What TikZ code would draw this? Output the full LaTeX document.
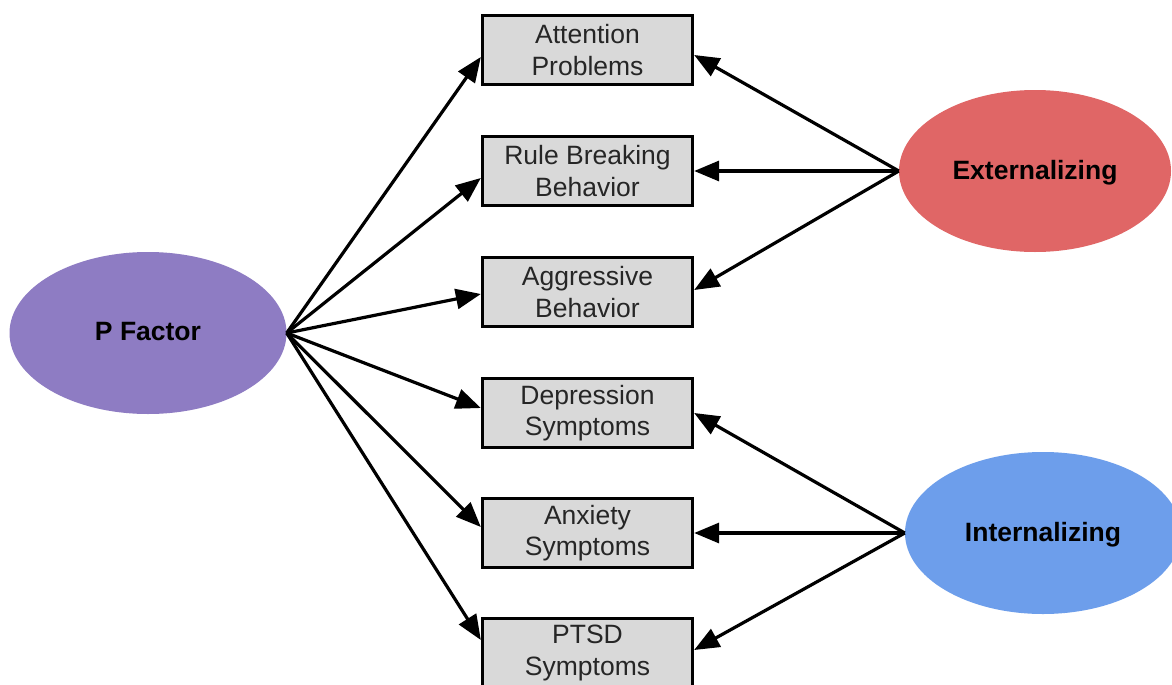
\documentclass[tikz,border=0pt]{standalone}
\usepackage{fontspec}
\setmainfont{Liberation Sans}
\usetikzlibrary{arrows.meta,calc,shapes.geometric}
\definecolor{pfcol}{HTML}{8E7CC3}
\definecolor{excol}{HTML}{E06666}
\definecolor{incol}{HTML}{6D9EEB}
\definecolor{boxcol}{HTML}{D9D9D9}
\definecolor{txtcol}{HTML}{262626}
\tikzset{
  measbox/.style={draw=black, fill=boxcol, line width=3.3pt, minimum width=210pt, minimum height=69pt, inner sep=0pt, align=center, text=txtcol, font=\fontsize{26.5}{31.5}\selectfont},
  factor/.style={ellipse, draw=none, inner sep=0pt, text depth=3pt, font=\fontsize{26.5}{31}\selectfont\bfseries},
  arr/.style={line width=3.2pt, -{Triangle[length=25pt,width=20pt]}}
}
\begin{document}
\begin{tikzpicture}[x=1pt,y=-1pt]
\clip (0,0) rectangle (1172,685);
\fill[white] (0,0) rectangle (1172,685);
\node[factor, fill=pfcol, minimum width=277pt, minimum height=162pt] (pf) at (148,333) {P Factor};
\node[factor, fill=excol, minimum width=272pt, minimum height=162pt] (ex) at (1035,171) {Externalizing};
\node[factor, fill=incol, minimum width=276pt, minimum height=162pt] (in) at (1043,533) {Internalizing};
\node[measbox] (att) at (587.5,50) {Attention\\Problems};
\node[measbox] (rule) at (587.5,171) {Rule Breaking\\Behavior};
\node[measbox] (agg) at (587.5,292) {Aggressive\\Behavior};
\node[measbox] (dep) at (587.5,413) {Depression\\Symptoms};
\node[measbox] (anx) at (587.5,533) {Anxiety\\Symptoms};
\node[measbox] (ptsd) at (587.5,653) {PTSD\\Symptoms};
\draw[arr] (pf.east) -- ($(att.west)+(0,7)$);
\draw[arr] (pf.east) -- ($(rule.west)+(0,7)$);
\draw[arr] (pf.east) -- ($(agg.west)+(0,2)$);
\draw[arr] (pf.east) -- ($(dep.west)+(0,-5)$);
\draw[arr] (pf.east) -- ($(anx.west)+(0,-6)$);
\draw[arr] (pf.east) -- ($(ptsd.west)+(0,-13)$);
\draw[arr] (ex.west) -- ($(att.east)+(0,5)$);
\draw[arr] (ex.west) -- (rule.east);
\draw[arr] (ex.west) -- ($(agg.east)+(0,-2)$);
\draw[arr] (in.west) -- (dep.east);
\draw[arr] (in.west) -- (anx.east);
\draw[arr] (in.west) -- ($(ptsd.east)+(0,-3)$);
\end{tikzpicture}
\end{document}
